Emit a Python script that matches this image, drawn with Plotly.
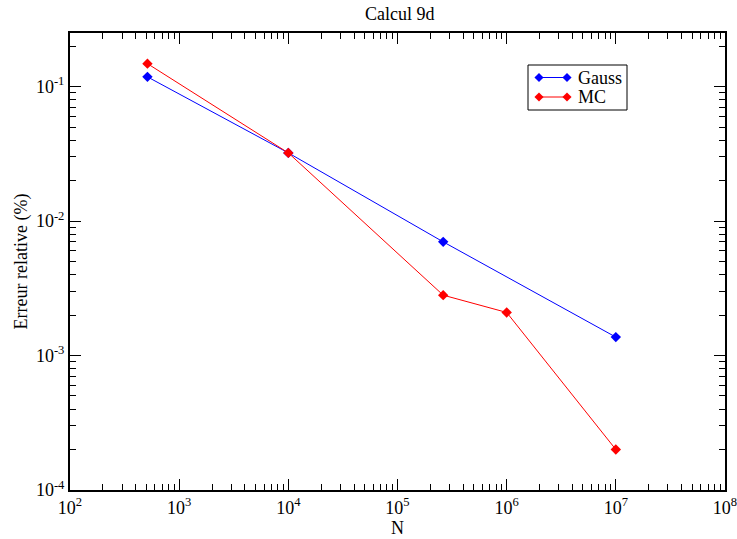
import plotly.graph_objects as go

# Nombre de points d'évaluation et erreur relative (%) pour l'intégrale en 9 dimensions
n_gauss = [512, 1e4, 262144, 1e7]
err_gauss = [0.118, 0.0321, 0.0070, 0.00137]

n_mc = [512, 1e4, 262144, 1e6, 1e7]
err_mc = [0.148, 0.0321, 0.00281, 0.00209, 0.0002]

series_names = ["Gauss", "MC"]
series_colors = ["#0000ff", "#ff0000"]

x_decades = [2, 3, 4, 5, 6, 7, 8]
y_decades = [-4, -3, -2, -1]

font_family = "'Liberation Serif', 'Times New Roman', 'DejaVu Serif', serif"

W, H = 737, 539
M = dict(l=70, r=12, t=33, b=49)

def sup_labels(exps):
    return ["10<sup>%d</sup>" % e for e in exps]

def minor_vals(exps, top=None):
    vals = []
    for e in exps:
        for m in range(2, 10):
            v = m * 10 ** e
            if top is None or v <= top:
                vals.append(v)
    return vals

fig = go.Figure()
for xs, ys, name, color in [(n_gauss, err_gauss, series_names[0], series_colors[0]),
                            (n_mc, err_mc, series_names[1], series_colors[1])]:
    fig.add_trace(go.Scatter(
        x=xs, y=ys, name=name, mode="lines+markers",
        line=dict(color=color, width=1),
        marker=dict(symbol="diamond", size=8, color=color),
        showlegend=False,
    ))

# Légende encadrée, dessinée en coordonnées pixel sur un repère superposé
box = dict(x0=528, x1=627, y0=65, y1=110)
row_y = [77.5, 97]
seg_x = [539, 567]
for name, color, ry in zip(series_names, series_colors, row_y):
    fig.add_trace(go.Scatter(
        x=seg_x, y=[ry, ry], xaxis="x2", yaxis="y2", mode="lines+markers",
        line=dict(color=color, width=1),
        marker=dict(symbol="diamond", size=7, color=color),
        showlegend=False, hoverinfo="skip",
    ))
    fig.add_annotation(x=576, y=ry, xref="x2", yref="y2", text=name, showarrow=False,
                       xanchor="left", yanchor="middle",
                       font=dict(family=font_family, size=18, color="black"))
fig.add_shape(type="rect", xref="x2", yref="y2", layer="below",
              line=dict(color="black", width=1), fillcolor="white", **box)

axis_common = dict(
    type="log", showgrid=False, zeroline=False, automargin=False,
    showline=True, linecolor="black", linewidth=2, mirror="ticks",
    ticks="inside", ticklen=11, tickwidth=1, tickcolor="black",
    tickfont=dict(family=font_family, size=18, color="black"),
    tickmode="array", ticklabeloverflow="allow",
)

fig.update_layout(
    xaxis=dict(
        **axis_common,
        range=[2, 8],
        tickvals=[10 ** e for e in x_decades],
        ticktext=sup_labels(x_decades),
        minor=dict(ticks="inside", ticklen=6, tickwidth=1, tickcolor="black",
                   tickmode="array", tickvals=minor_vals(x_decades[:-1]), showgrid=False),
        title=dict(text="N", font=dict(family=font_family, size=18, color="black"), standoff=0),
    ),
    yaxis=dict(
        **axis_common,
        range=[-4, -0.602],
        tickvals=[10 ** e for e in y_decades],
        ticktext=sup_labels(y_decades),
        minor=dict(ticks="inside", ticklen=6, tickwidth=1, tickcolor="black",
                   tickmode="array", tickvals=minor_vals(y_decades, top=0.25), showgrid=False),
        title=dict(text="Erreur relative (%)", font=dict(family=font_family, size=18, color="black"),
                   standoff=4),
    ),
    xaxis2=dict(overlaying="x", range=[M["l"], W - M["r"]], visible=False, fixedrange=True),
    yaxis2=dict(overlaying="y", range=[H - M["b"], M["t"]], visible=False, fixedrange=True),
)

fig.update_layout(
    width=W, height=H,
    margin=M,
    paper_bgcolor="white", plot_bgcolor="white",
    title=dict(text="Calcul 9d", x=(399.7 - M["l"]) / (W - M["l"] - M["r"]), xref="paper",
               xanchor="center", y=1 - 13.5 / H, yanchor="middle",
               font=dict(family=font_family, size=18, color="black")),
    font=dict(family=font_family, color="black"),
    showlegend=False,
)

fig.write_html("out.html")
